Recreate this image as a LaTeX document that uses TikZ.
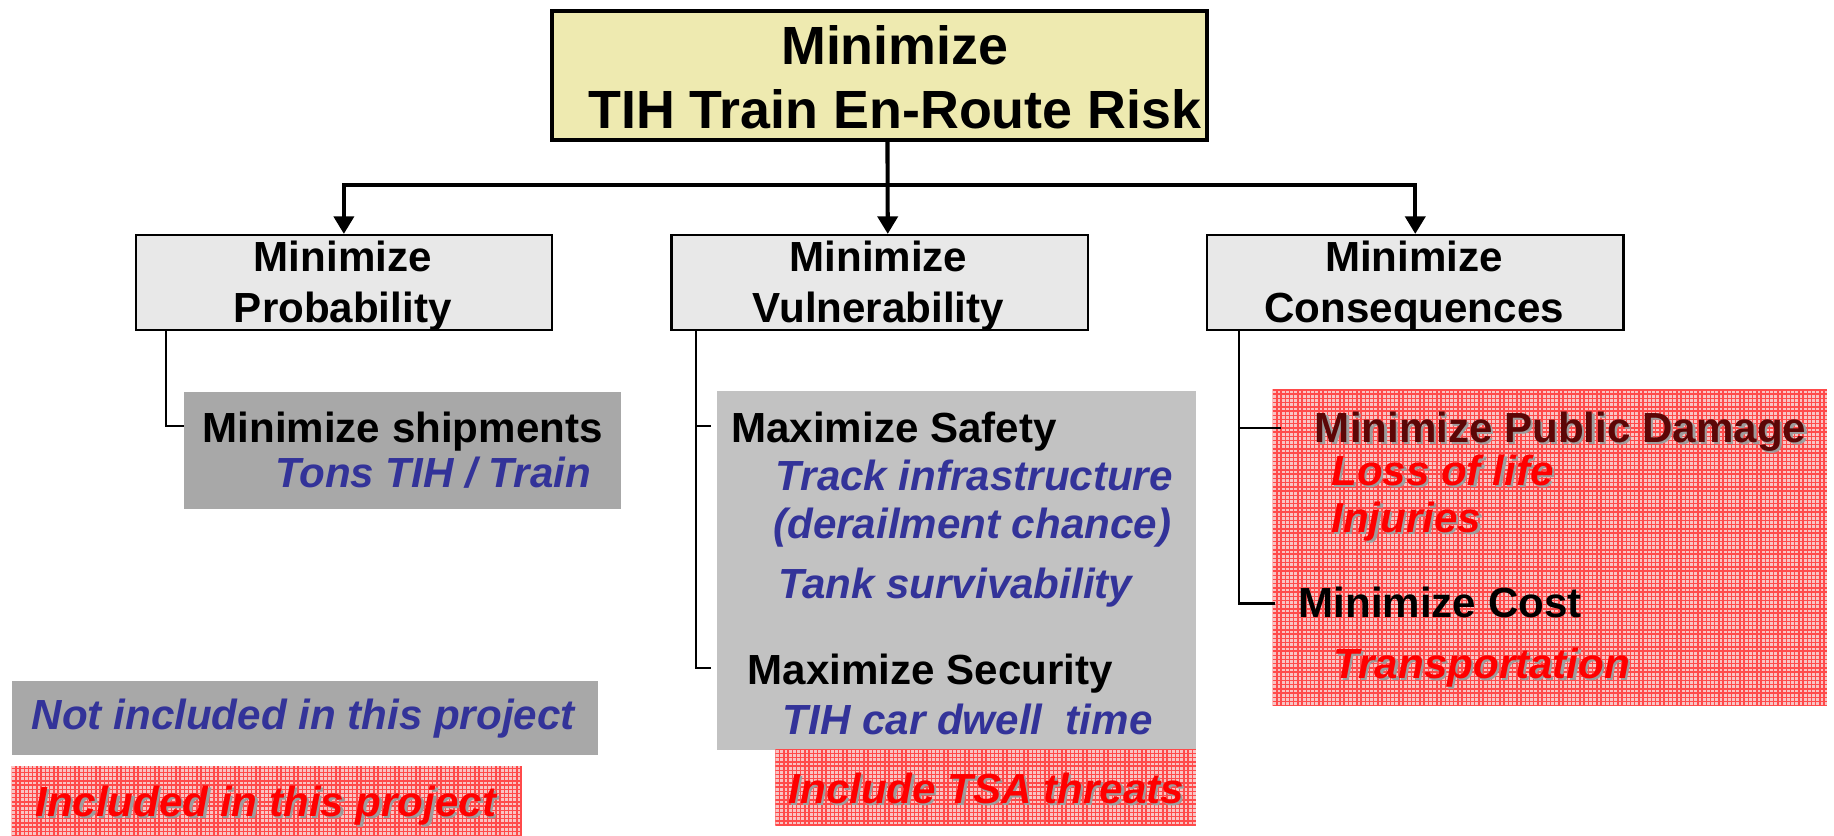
\documentclass[tikz,border=0pt]{standalone}
\usepackage{fontspec}
\setmainfont{Liberation Sans}
\usetikzlibrary{arrows.meta}

\definecolor{goalfill}{HTML}{EEEAB0}
\definecolor{subfill}{HTML}{E8E8E8}
\definecolor{grayA}{HTML}{A8A8A8}
\definecolor{grayB}{HTML}{C2C2C2}
\definecolor{pinkbase}{HTML}{F8C4C4}
\definecolor{plaidred}{HTML}{FF4A4A}
\definecolor{itemblue}{HTML}{333399}
\definecolor{itemred}{HTML}{FF0000}
\definecolor{maroon}{HTML}{5C0606}
\definecolor{shadowgray}{HTML}{9C9C9C}

\tikzset{
  goalbox/.style={draw=black, line width=3.5pt, fill=goalfill, inner sep=0pt, anchor=north west},
  subbox/.style={draw=black, line width=2pt, fill=subfill, inner sep=0pt, anchor=north west},
  grayboxA/.style={fill=grayA, inner sep=0pt, anchor=north west},
  grayboxB/.style={fill=grayB, inner sep=0pt, anchor=north west},
  pinkbox/.style={fill=pinkbase, inner sep=0pt, anchor=north west},
  plaidline/.style={draw=plaidred, line width=1.2pt},
  main/.style={line width=3.5pt},
  mainarrow/.style={line width=3.5pt, -{Triangle[width=17pt,length=15pt]}},
  branch/.style={line width=1.8pt},
  goaltxt/.style={inner sep=0pt, font=\fontsize{46}{55}\selectfont\bfseries},
  headtxt/.style={inner sep=0pt, font=\fontsize{36}{43}\selectfont\bfseries},
  bluetxt/.style={inner sep=0pt, text=itemblue, font=\fontsize{36}{43}\selectfont\bfseries\itshape},
  redtxt/.style={inner sep=0pt, text=itemred, font=\fontsize{36}{43}\selectfont\bfseries\itshape},
  maroontxt/.style={inner sep=0pt, text=maroon, font=\fontsize{36}{43}\selectfont\bfseries},
}

% red grid texture laid over a pink box node
\newcommand\plaidfill[1]{%
  \begin{scope}
    \clip (#1.south west) rectangle (#1.north east);
    \foreach \k in {0,...,140}{
      \draw[plaidline] ([xshift=3.6*\k]#1.south west) -- ([xshift=3.6*\k]#1.north west);
      \draw[plaidline] ([yshift=3.6*\k]#1.south west) -- ([yshift=3.6*\k]#1.south east);
    }
  \end{scope}}

% text with a soft gray drop shadow
\newcommand\shadowtext[4]{%
  \node[#3, text=shadowgray, anchor=base west, xshift=2pt, yshift=-2pt] (#1s) at #2 {#4};
  \node[#3, anchor=base west] (#1) at #2 {#4};}

\begin{document}
\begin{tikzpicture}[x=1pt, y=-1pt]
\useasboundingbox (0,0) rectangle (1568,714);

% goal
\node[goalbox, minimum width=560pt, minimum height=110pt] (goal) at (470,8) {};
\node[goaltxt, anchor=base] (goalA) at (765,55) {Minimize};
\node[goaltxt, anchor=base] (goalB) at (765,110) {TIH Train En-Route Risk};

% sub-objectives
\node[subbox, minimum width=356pt, minimum height=81pt] (prob) at (115,200) {};
\node[subbox, minimum width=356pt, minimum height=81pt] (vul) at (573,200) {};
\node[subbox, minimum width=356pt, minimum height=81pt] (cons) at (1031,200) {};
\node[headtxt, anchor=base] (probA) at (293,232) {Minimize};
\node[headtxt, anchor=base] (probB) at (293,276) {Probability};
\node[headtxt, anchor=base] (vulA) at (751,232) {Minimize};
\node[headtxt, anchor=base] (vulB) at (751,276) {Vulnerability};
\node[headtxt, anchor=base] (consA) at (1209,232) {Minimize};
\node[headtxt, anchor=base] (consB) at (1209,276) {Consequences};

% connectors from the goal
\coordinate (bus) at (0,158);
\draw[mainarrow] ([xshift=7pt]goal.south) -- ([xshift=7pt]vul.north);
\draw[main, {Triangle[width=17pt,length=15pt]}-{Triangle[width=17pt,length=15pt]}]
  (prob.north) -- (prob.north |- bus) -- (cons.north |- bus) -- (cons.north);

% probability branch
\node[grayboxA, minimum width=374pt, minimum height=100pt] (ship) at (157,335) {};
\node[headtxt, anchor=base west] (shipA) at (173,378) {Minimize shipments};
\node[bluetxt, anchor=base west] (shipB) at (235,417) {Tons TIH / Train};
\draw[branch] ([xshift=27pt]prob.south west) |- ([yshift=-29pt]ship.north west);

% vulnerability branch
\node[grayboxB, minimum width=409pt, minimum height=307pt] (safe) at (613,334) {};
\node[pinkbox, minimum width=359pt, minimum height=64pt] (tsa) at (663,641) {};
\plaidfill{tsa}
\node[headtxt, anchor=base west] (safeA) at (625,378) {Maximize Safety};
\node[bluetxt, anchor=base west] (safeB) at (663,419) {Track infrastructure};
\node[bluetxt, anchor=base west] (safeC) at (661,460) {(derailment chance)};
\node[bluetxt, anchor=base west] (safeD) at (665,512) {Tank survivability};
\node[headtxt, anchor=base west] (secA) at (639,585) {Maximize Security};
\node[bluetxt, anchor=base west] (secB) at (669,628) {TIH car dwell\ \ time};
\shadowtext{tsaA}{(674,687)}{redtxt}{Include TSA threats}
\draw[branch] ([xshift=22pt]vul.south west) |- ([xshift=-5pt,yshift=-30pt]safe.north west);
\draw[branch] ([xshift=22pt]vul.south west) |- ([xshift=-5pt,yshift=-237pt]safe.north west);

% consequences branch
\node[pinkbox, minimum width=474pt, minimum height=270pt] (pub) at (1088,333) {};
\plaidfill{pub}
\shadowtext{pubA}{(1124,378)}{maroontxt}{Minimize Public Damage}
\shadowtext{pubB}{(1138,415)}{redtxt}{Loss of life}
\shadowtext{pubC}{(1138,455)}{redtxt}{Injuries}
\node[headtxt, anchor=base west] (costA) at (1110,528) {Minimize Cost};
\shadowtext{costB}{(1140,580)}{redtxt}{Transportation}
\draw[branch] ([xshift=28pt]cons.south west) |- ([xshift=7pt,yshift=-33pt]pub.north west);
\draw[branch] ([xshift=28pt]cons.south west) |- ([xshift=2pt,yshift=-183pt]pub.north west);

% legend
\node[grayboxA, minimum width=501pt, minimum height=63pt] (notinc) at (10,582) {};
\node[bluetxt, anchor=base west] (notincA) at (27,624) {Not included in this project};
\node[pinkbox, minimum width=436pt, minimum height=59pt] (inc) at (10,655) {};
\plaidfill{inc}
\shadowtext{incA}{(30,698)}{redtxt}{Included in this project}
\end{tikzpicture}
\end{document}
